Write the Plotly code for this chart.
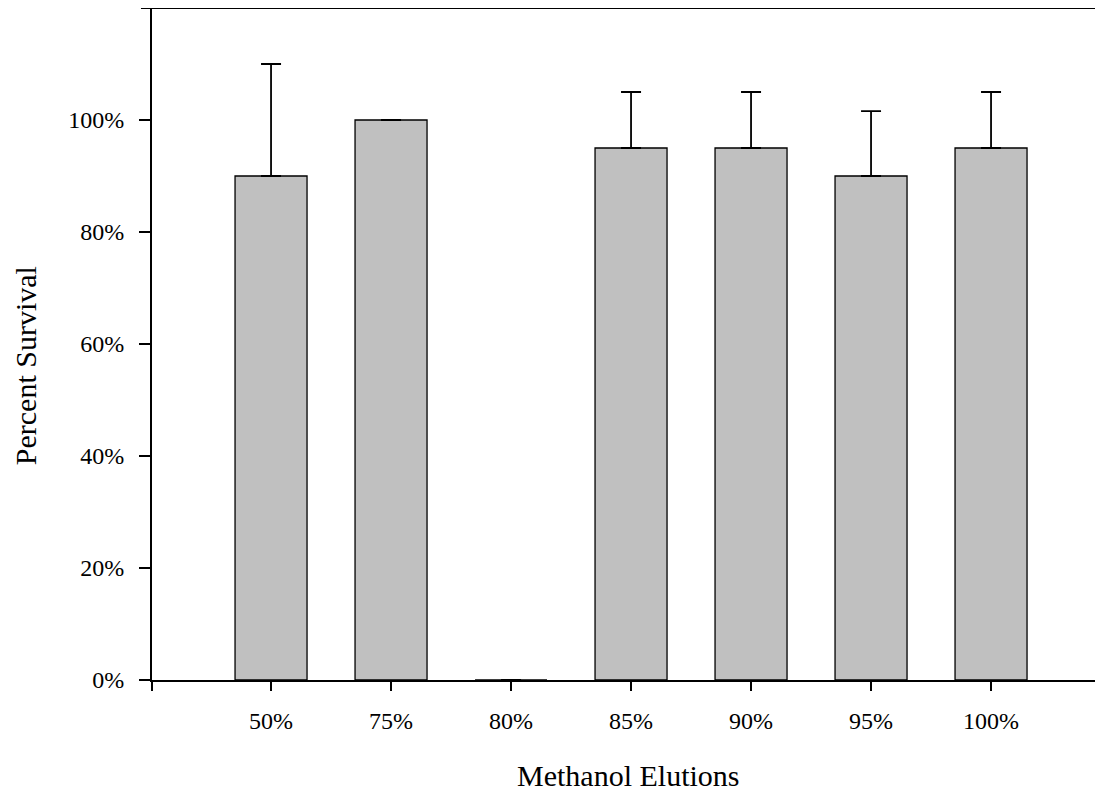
import plotly.graph_objects as go

categories = ["50%", "75%", "80%", "85%", "90%", "95%", "100%"]
survival = [90, 100, 0, 95, 95, 90, 95]
err_up = [20, 0, 0, 10, 10, 11.6, 10]
y_ticks = [0, 20, 40, 60, 80, 100]
y_labels = ["0%", "20%", "40%", "60%", "80%", "100%"]

xpos = list(range(len(categories)))
x_left = -0.992
x_right = 6.933

fig = go.Figure()
fig.add_trace(go.Bar(
    x=xpos, y=survival, width=0.6,
    marker=dict(color="#c0c0c0", line=dict(color="black", width=1.3)),
    error_y=dict(type="data", symmetric=False, array=err_up,
                 arrayminus=[0] * len(err_up), color="black",
                 thickness=1.8, width=10, visible=True),
    showlegend=False,
))

font_family = "Liberation Serif, Times New Roman, serif"
fig.update_layout(
    width=1095, height=787,
    margin=dict(l=144, r=0, t=0, b=115),
    paper_bgcolor="white", plot_bgcolor="white",
    font=dict(family=font_family, size=24, color="black"),
    xaxis=dict(
        range=[x_left, x_right], tickmode="array",
        tickvals=[x_left] + xpos, ticktext=[""] + categories,
        showline=True, linecolor="black", linewidth=2,
        ticks="outside", ticklen=9, tickwidth=2, tickcolor="black",
        showgrid=False, zeroline=False, ticklabelstandoff=9,
    ),
    yaxis=dict(
        range=[0, 120], tickmode="array", tickvals=y_ticks, ticktext=y_labels,
        showline=True, linecolor="black", linewidth=2,
        ticks="outside", ticklen=11, tickwidth=2, tickcolor="black",
        showgrid=False, zeroline=False, ticklabelstandoff=10,
    ),
    shapes=[dict(type="line", xref="paper", yref="y", x0=-0.0116, x1=1.0,
                 y0=120, y1=120, line=dict(color="black", width=2))],
    annotations=[
        dict(text="Methanol Elutions", xref="paper", yref="paper", x=0.5, y=-0.1414,
             showarrow=False, font=dict(size=30), xanchor="center", yanchor="middle"),
        dict(text="Percent Survival", xref="paper", yref="paper", x=-0.1335, y=0.467,
             showarrow=False, font=dict(size=30), textangle=-90,
             xanchor="center", yanchor="middle"),
    ],
)

fig.write_html("out.html")
